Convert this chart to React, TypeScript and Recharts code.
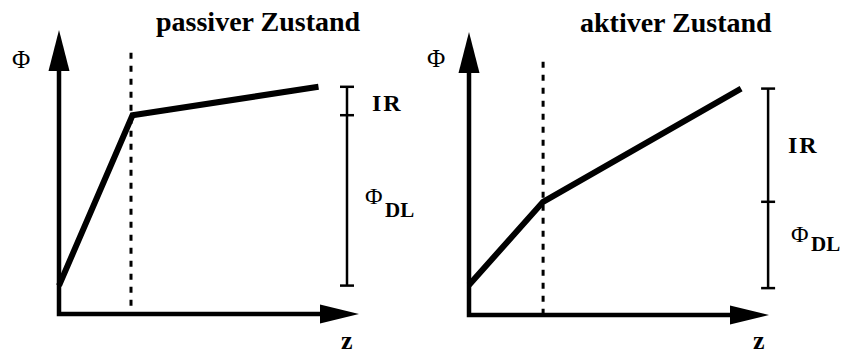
import React from "react";
import { ComposedChart, Line, Scatter, XAxis, YAxis } from "recharts";

// ---- data (schematic units: z along x, Φ along y) ----
const axisFrame = [
  { z: 0, phi: 9 },
  { z: 0, phi: 0 },
  { z: 9, phi: 0 },
];
const yArrowTip = [{ z: 0, phi: 10 }];
const xArrowTip = [{ z: 10, phi: 0 }];

const passiveCurve = [
  { z: 0, phi: 1.0 },
  { z: 2.45, phi: 7.0 },
  { z: 8.65, phi: 8.0 },
];
const passiveBoundary = [
  { z: 2.4, phi: 9.2 },
  { z: 2.4, phi: 0.2 },
];
const passiveBracket = [
  { z: 9.6, phi: 1.0 },
  { z: 9.6, phi: 8.0 },
];
const passiveBracketTicks = [
  { z: 9.6, phi: 1.0 },
  { z: 9.6, phi: 7.0 },
  { z: 9.6, phi: 8.0 },
];

const activeCurve = [
  { z: 0, phi: 1.06 },
  { z: 2.47, phi: 4.0 },
  { z: 9.07, phi: 8.0 },
];
const activeBoundary = [
  { z: 2.47, phi: 8.95 },
  { z: 2.47, phi: 0 },
];
const activeBracket = [
  { z: 9.97, phi: 0.95 },
  { z: 9.97, phi: 8.0 },
];
const activeBracketTicks = [
  { z: 9.97, phi: 0.95 },
  { z: 9.97, phi: 4.0 },
  { z: 9.97, phi: 8.0 },
];

const titles = ["passiver Zustand", "aktiver Zustand"];

const FONT = "Liberation Serif, Times New Roman, DejaVu Serif, serif";

const ArrowUp = (p: any) => {
  const { cx, cy } = p;
  if (cx == null || cy == null) return null;
  return <polygon points={`${cx},${cy} ${cx - 10.5},${cy + 41} ${cx + 10.5},${cy + 41}`} fill="#000" />;
};
const ArrowRight = (p: any) => {
  const { cx, cy } = p;
  if (cx == null || cy == null) return null;
  return <polygon points={`${cx},${cy} ${cx - 39},${cy - 9.5} ${cx - 39},${cy + 9.5}`} fill="#000" />;
};
const Cap = (p: any) => {
  const { cx, cy } = p;
  if (cx == null || cy == null) return null;
  return <line x1={cx - 7} x2={cx + 7} y1={cy} y2={cy} stroke="#000" strokeWidth={2.5} />;
};

type PanelProps = {
  width: number;
  margin: { top: number; right: number; bottom: number; left: number };
  curve: { z: number; phi: number }[];
  boundary: { z: number; phi: number }[];
  bracket: { z: number; phi: number }[];
  ticks: { z: number; phi: number }[];
};

const Panel = ({ width, margin, curve, boundary, bracket, ticks }: PanelProps) => (
  <ComposedChart width={width} height={354} margin={margin} style={{ overflow: "visible" }}>
    <XAxis type="number" dataKey="z" domain={[0, 12]} hide />
    <YAxis type="number" dataKey="phi" domain={[0, 10]} hide />
    <Line data={boundary} dataKey="phi" stroke="#000" strokeWidth={3} strokeDasharray="6 7" dot={false} activeDot={false} isAnimationActive={false} />
    <Line data={axisFrame} dataKey="phi" stroke="#000" strokeWidth={4.5} strokeLinejoin="miter" dot={false} activeDot={false} isAnimationActive={false} />
    <Line data={curve} dataKey="phi" stroke="#000" strokeWidth={6} strokeLinejoin="miter" dot={false} activeDot={false} isAnimationActive={false} />
    <Line data={bracket} dataKey="phi" stroke="#000" strokeWidth={2.5} dot={false} activeDot={false} isAnimationActive={false} />
    <Scatter data={ticks} dataKey="phi" shape={Cap} isAnimationActive={false} />
    <Scatter data={yArrowTip} dataKey="phi" shape={ArrowUp} isAnimationActive={false} />
    <Scatter data={xArrowTip} dataKey="phi" shape={ArrowRight} isAnimationActive={false} />
  </ComposedChart>
);

const T = (p: any) => {
  const { children, bold, size, ...rest } = p;
  return (
    <text {...rest} style={{ fontFamily: FONT, fontSize: size, fontWeight: bold ? 700 : 400 }} fill="#000">
      {children}
    </text>
  );
};

export default function App() {
  return (
    <div style={{ position: "absolute", left: 0, top: 0, width: 841, height: 354, background: "#fff", overflow: "hidden", fontFamily: FONT }}>
      <div style={{ position: "absolute", left: 0, top: 0 }}>
        <Panel
          width={420}
          margin={{ top: 30, right: 1, bottom: 40, left: 59 }}
          curve={passiveCurve}
          boundary={passiveBoundary}
          bracket={passiveBracket}
          ticks={passiveBracketTicks}
        />
      </div>
      <div style={{ position: "absolute", left: 420, top: 0 }}>
        <Panel
          width={421}
          margin={{ top: 32, right: 12, bottom: 39, left: 49 }}
          curve={activeCurve}
          boundary={activeBoundary}
          bracket={activeBracket}
          ticks={activeBracketTicks}
        />
      </div>
      <svg width={841} height={354} style={{ position: "absolute", left: 0, top: 0, pointerEvents: "none" }}>
        <T x={156} y={31} size={28} bold>{titles[0]}</T>
        <T x={580} y={32} size={28} bold>{titles[1]}</T>

        <T x={12} y={68} size={25}>Φ</T>
        <T x={427} y={67} size={25}>Φ</T>

        <T x={341} y={349} size={26} bold>z</T>
        <T x={753} y={349} size={26} bold>z</T>

        <T x={372} y={111} size={24} bold letterSpacing={2}>IR</T>
        <T x={788} y={153} size={24} bold letterSpacing={2}>IR</T>

        <T x={365} y={204} size={24}>Φ</T>
        <T x={385} y={217} size={21} bold>DL</T>
        <T x={791} y={242} size={24}>Φ</T>
        <T x={811} y={251} size={21} bold>DL</T>
      </svg>
    </div>
  );
}
